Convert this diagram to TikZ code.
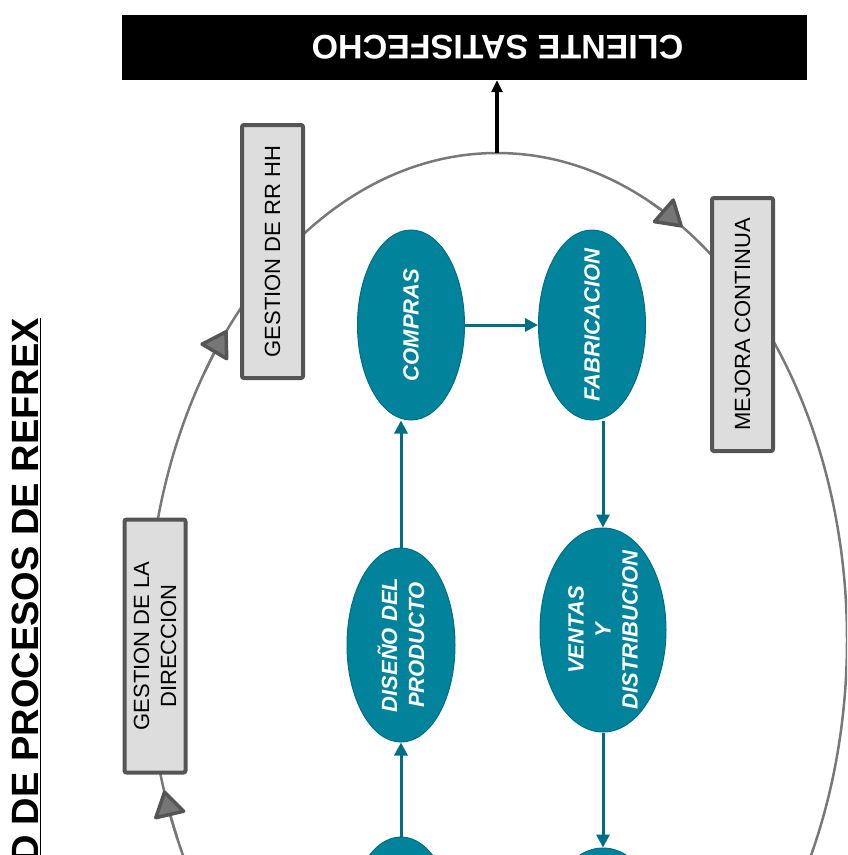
\documentclass[tikz,border=0pt]{standalone}
\usepackage{fontspec}
\setmainfont{Liberation Sans}
\usepackage{tikz}
\usetikzlibrary{shapes,arrows.meta}
\definecolor{procfill}{RGB}{0,131,155}
\definecolor{procline}{RGB}{0,110,133}
\definecolor{boxfill}{RGB}{221,221,221}
\definecolor{boxline}{RGB}{85,85,85}
\definecolor{ringline}{RGB}{120,120,120}
\definecolor{ringfill}{RGB}{118,118,118}
\tikzstyle{proc} = [ellipse, draw=procline, fill=procfill, line width=1pt, inner sep=0pt]
\tikzstyle{proctext} = [rotate=90, text=white, align=center,
    font=\fontsize{22}{27}\selectfont\bfseries\itshape]
\tikzstyle{support} = [rectangle, draw=boxline, fill=boxfill, line width=4pt,
    rounded corners=2pt, rotate=90, minimum width=253pt, minimum height=61pt,
    align=center, font=\fontsize{22}{27}\selectfont]
\tikzstyle{clientbox} = [rectangle, fill=black, text=white, rotate=180,
    minimum width=685pt, minimum height=65pt, font=\fontsize{34}{38}\selectfont\bfseries]
\tikzstyle{heading} = [rotate=90, anchor=base east, inner sep=0pt,
    font=\fontsize{38}{42}\selectfont\bfseries]
\tikzstyle{line} = [draw, procline, line width=3pt, -{Triangle[length=13pt,width=13pt]}]
\tikzstyle{blackline} = [draw, black, line width=3.5pt, -{Triangle[length=12pt,width=11pt]}]
\tikzstyle{ringpath} = [draw=ringline, line width=2.5pt]
\tikzstyle{ringtip} = [draw=ringline, line width=2.5pt,
    -{Triangle[length=28pt,width=34pt,round,fill=ringfill,color=boxline,line width=3.5pt]}]

\begin{document}
\begin{tikzpicture}[x=1pt, y=1pt]
  \useasboundingbox (0,0) rectangle (847,-855);
  \clip (0,0) rectangle (847,-855);
  \node [heading] (titulo) at (38,-318) {\underline{D DE PROCESOS DE REFREX}};
  \node [clientbox] (cliente) at (464.5,-47.5) {CLIENTE SATISFECHO\hspace*{66pt}};
  \coordinate (ring) at (497,-640);
  \coordinate (ringtop) at (497,-153);
  \path [ringpath] (ring) ellipse [x radius=350pt, y radius=487pt];
  \foreach \a in {142.5,60,200}
    \path [ringtip] (ring) ++(\a+4:350pt and 487pt)
      arc [start angle=\a+4, end angle=\a-2, x radius=350pt, y radius=487pt];
  \node [support] (rrhh) at (272.5,-251.5) {GESTION DE RR HH};
  \node [support] (direccion) at (155,-646) {GESTION DE LA\\DIRECCION};
  \node [support] (mejora) at (742.5,-324.5) {MEJORA CONTINUA};
  \node [proc, minimum width=107pt, minimum height=190pt,
    label={[proctext]center:COMPRAS}] (compras) at (411,-325) {};
  \node [proc, minimum width=107pt, minimum height=190pt,
    label={[proctext]center:FABRICACION}] (fabricacion) at (592,-325) {};
  \node [proc, minimum width=108pt, minimum height=194pt,
    label={[proctext]center:{DISEÑO DEL\\PRODUCTO}}] (diseno) at (401,-645) {};
  \node [proc, minimum width=126pt, minimum height=204pt,
    label={[proctext]center:{VENTAS\\Y\\DISTRIBUCION}}] (ventas) at (603,-630) {};
  \node [proc, minimum width=108pt, minimum height=194pt] (inicio) at (401,-934) {};
  \node [proc, minimum width=126pt, minimum height=204pt] (fin) at (603,-950) {};
  \path [line] (compras) -- (fabricacion);
  \path [line] (diseno) -- (diseno |- compras.south);
  \path [line] (fabricacion.south -| ventas) -- (ventas);
  \path [line] (inicio) -- (diseno);
  \path [line] (ventas) -- (fin);
  \path [blackline] (ringtop) -- (ringtop |- cliente.north);
\end{tikzpicture}
\end{document}
